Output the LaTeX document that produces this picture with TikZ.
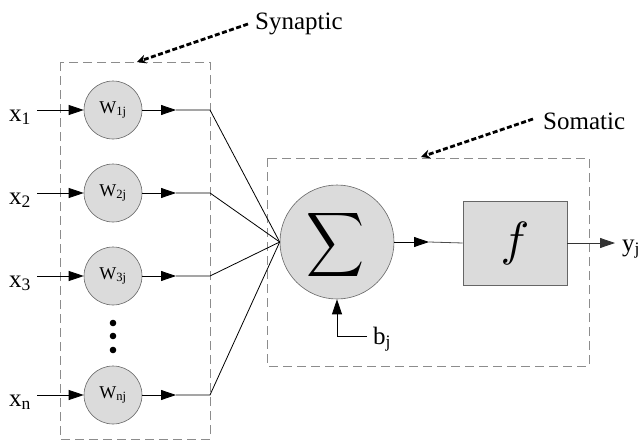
\documentclass[tikz,border=0pt]{standalone}
\usepackage{fontspec}
\setmainfont{Liberation Serif}
\usetikzlibrary{arrows.meta}

\begin{document}
\begin{tikzpicture}[x=1pt,y=-1pt,
  neuron/.style={circle, draw=black!60, fill=black!14, line width=0.6pt,
    minimum size=58pt, inner sep=0pt, font=\fontsize{18}{18}\selectfont},
  bigcell/.style={circle, draw=black!60, fill=black!14, line width=0.6pt,
    minimum size=114pt, inner sep=0pt},
  actbox/.style={rectangle, draw=black!60, fill=black!14, line width=0.6pt,
    minimum width=104pt, minimum height=84pt, inner sep=0pt},
  groupbox/.style={draw=black!45, line width=0.8pt, dash pattern=on 9pt off 5pt},
  lbl/.style={inner sep=0pt, font=\fontsize{25}{25}\selectfont},
  calltext/.style={inner sep=0pt, font=\fontsize{25}{25}\selectfont},
  wire/.style={line width=0.8pt},
  arrowline/.style={wire, -{Triangle[length=15pt,width=10pt]}},
  callout/.style={line width=2.8pt, dash pattern=on 5pt off 2.5pt,
    -{Stealth[length=9pt,width=9pt]}}
]
\useasboundingbox (0,0) rectangle (641,442);

% group frames
\draw[groupbox] (60,62) rectangle (210,439);
\draw[groupbox] (267,158) rectangle (589,366);

% weighted synapses
\node[neuron] (w1) at (113,110) {W\textsubscript{1j}};
\node[neuron] (w2) at (113,193) {W\textsubscript{2j}};
\node[neuron] (w3) at (113,276) {W\textsubscript{3j}};
\node[neuron] (wn) at (113,395) {W\textsubscript{nj}};
\foreach \yy in {323,336,350} \fill (113,\yy) circle (3.3pt);

% inputs
\node[lbl, anchor=base west] (x1) at (9,121) {x\textsubscript{1}};
\node[lbl, anchor=base west] (x2) at (9,204) {x\textsubscript{2}};
\node[lbl, anchor=base west] (x3) at (9,287) {x\textsubscript{3}};
\node[lbl, anchor=base west] (xn) at (9,406) {x\textsubscript{n}};
\foreach \i/\yy in {1/110,2/193,3/276,n/395} {
  \coordinate (in\i) at (37,\yy);
  \coordinate (mid\i) at (176,\yy);
  \coordinate (out\i) at (210,\yy);
}

% soma
\node[bigcell] (sum) at (337,242) {};
\node[inner sep=0pt] (sigma) at (336,245) {\resizebox*{58pt}{72pt}{$\displaystyle\sum$}};
\node[actbox] (f) at (515,243) {\scalebox{4.8}{$f$}};
\node[lbl, anchor=base west] (y) at (622,251) {y\textsubscript{j}};
\node[lbl, anchor=base west] (b) at (373,344) {b\textsubscript{j}};
\coordinate (sumout) at (429,242);
\coordinate (fout) at (615,243);
\coordinate (bend) at (337,336);
\coordinate (bstart) at (367,336);

% synapse wiring
\foreach \i in {1,2,3,n} {
  \draw[arrowline] (in\i) -- (w\i.west);
  \draw[arrowline] (w\i.east) -- (mid\i);
  \draw[wire] (mid\i) -- (out\i) -- (sum.west);
}

% soma wiring
\draw[arrowline] (sum.east) -- (sumout);
\draw[wire, black!70] (sumout) -- (f.west);
\draw[arrowline, black!80] (f.east) -- (fout);
\draw[arrowline] (bstart) -- (bend) -- (sum.south);

% annotations
\node[calltext, anchor=base west] (syn) at (255,29) {Synaptic};
\node[calltext, anchor=base west] (som) at (543,129) {Somatic};
\coordinate (syntip) at (137,62);
\coordinate (somtip) at (421,157);
\draw[callout] (248,24) -- (syntip);
\draw[callout] (533,119) -- (somtip);
\end{tikzpicture}
\end{document}
